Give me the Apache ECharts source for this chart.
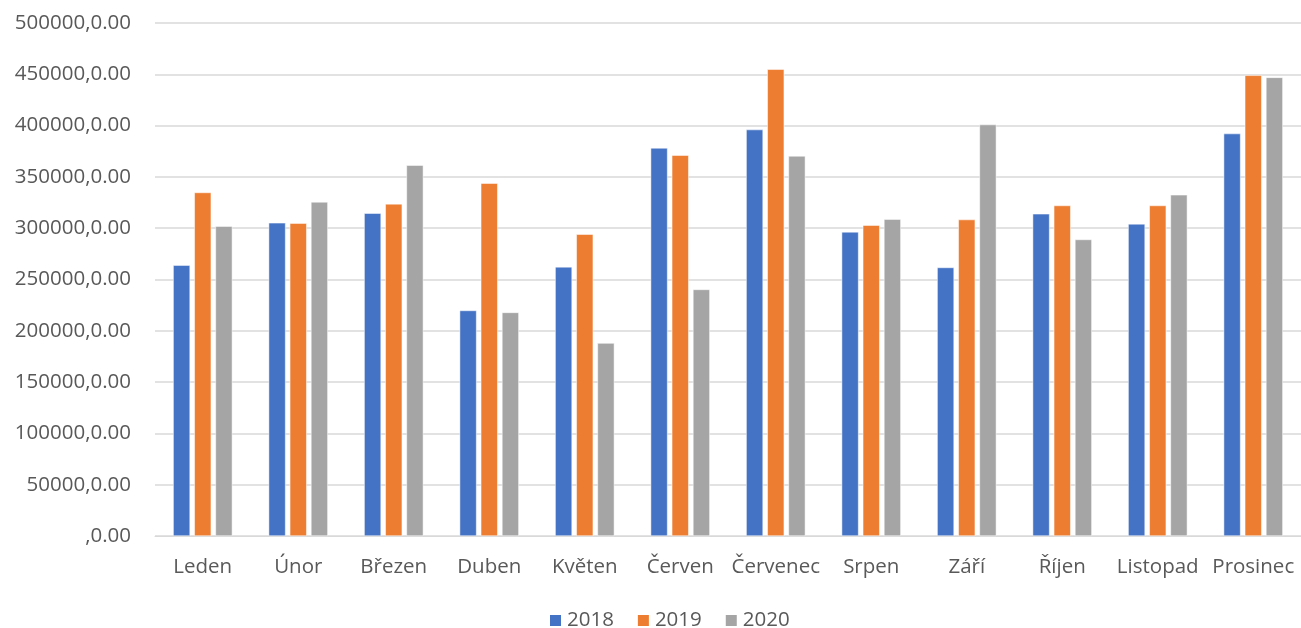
<!DOCTYPE html>
<html><head><meta charset="utf-8">
<script src="https://cdn.jsdelivr.net/npm/echarts@6/dist/echarts.min.js"></script>
<style>html,body{margin:0;padding:0;background:#fff}#c{width:1301px;height:628px}</style>
</head><body><div id="c"></div>
<script>
const categories = ['Leden','Únor','Březen','Duben','Květen','Červen','Červenec','Srpen','Září','Říjen','Listopad','Prosinec'];
const s2018 = [264000,305200,314600,219800,262300,378200,396100,296400,261700,314000,304200,392200];
const s2019 = [334800,304900,323700,343800,294100,371100,454900,302900,308400,322100,322100,449000];
const s2020 = [302000,325600,361400,217900,188000,240300,370400,308800,401000,289000,332500,447000];
const seriesNames = ['2018','2019','2020'];
const colors = ['#4472C4','#ED7D31','#A5A5A5'];
const font = 'Open Sans';
const chart = echarts.init(document.getElementById('c'));
const mk = (name, data, i) => ({
  name, type:'bar', data,
  itemStyle:{color:colors[i], borderColor:'#fff', borderWidth:0.5},
  barGap:'25%', barCategoryGap:'38%'
});
chart.setOption({
  animation:false,
  textStyle:{fontFamily:font},
  grid:{left:155, right:0, top:23, bottom:92, containLabel:false},
  legend:{
    top:605, left:543, itemWidth:13, itemHeight:13, itemGap:22,
    icon:'rect',
    textStyle:{fontFamily:font, fontSize:20.5, color:'#595959'},
    data:seriesNames
  },
  xAxis:{
    type:'category', data:categories,
    axisLine:{lineStyle:{color:'#D9D9D9'}},
    axisTick:{show:false},
    axisLabel:{fontFamily:font, fontSize:20.5, color:'#595959', margin:21, interval:0}
  },
  yAxis:{
    type:'value', min:0, max:500000, interval:50000,
    axisLine:{show:false}, axisTick:{show:false},
    splitLine:{lineStyle:{color:'#D9D9D9', width:1.5}},
    axisLabel:{fontFamily:font, fontSize:20.5, color:'#595959', margin:24,
      formatter: v => (v === 0 ? '' : String(v)) + ',0.00'}
  },
  series:[mk('2018',s2018,0), mk('2019',s2019,1), mk('2020',s2020,2)]
});
</script></body></html>
